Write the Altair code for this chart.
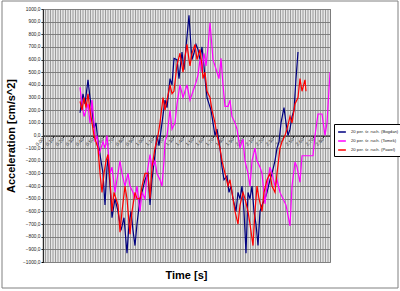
import altair as alt
import pandas as pd

# --- data (time [s], moving-average acceleration [cm/s^2]) ---
bogdan = [(0.37,180),(0.40,330),(0.42,250),(0.45,440),(0.47,300),(0.49,200),(0.51,60),(0.53,100),
          (0.55,-50),(0.57,-150),(0.60,-300),(0.62,-550),(0.64,-250),(0.65,-180),(0.67,-400),(0.69,-650),
          (0.72,-500),(0.75,-600),(0.78,-750),(0.81,-650),(0.84,-930),(0.86,-700),(0.88,-600),(0.90,-750),
          (0.92,-870),(0.94,-700),(0.97,-500),(0.99,-450),(1.02,-350),(1.05,-300),(1.07,-550),(1.09,-350),
          (1.12,-150),(1.14,0),(1.16,-80),(1.19,100),(1.22,280),(1.24,220),(1.27,450),(1.29,400),
          (1.31,610),(1.34,600),(1.36,450),(1.39,660),(1.41,520),(1.43,700),(1.46,950),(1.48,700),
          (1.49,600),(1.51,650),(1.53,720),(1.55,680),(1.57,600),(1.59,700),(1.61,550),(1.62,450),
          (1.64,300),(1.66,250),(1.68,200),(1.70,100),(1.72,0),(1.74,50),(1.77,-100),(1.79,-250),
          (1.81,-350),(1.84,-320),(1.86,-450),(1.88,-400),(1.90,-500),(1.93,-600),(1.95,-450),(1.97,-500),
          (1.99,-400),(2.01,-600),(2.03,-930),(2.05,-450),(2.07,-500),(2.09,-400),(2.11,-600),(2.13,-700),
          (2.15,-870),(2.17,-600),(2.19,-550),(2.22,-500),(2.24,-450),(2.27,-350),(2.29,-300),(2.32,-200),
          (2.34,-100),(2.36,-50),(2.38,100),(2.41,220),(2.43,100),(2.45,0),(2.47,50),(2.49,150),
          (2.51,200),(2.53,450),(2.55,660)]

tomek = [(0.37,380),(0.39,250),(0.41,150),(0.43,200),(0.45,250),(0.47,100),(0.49,280),(0.51,100),
         (0.52,-50),(0.54,0),(0.56,-150),(0.58,-100),(0.60,-50),(0.62,-100),(0.64,0),(0.65,-100),
         (0.67,-300),(0.69,-250),(0.72,-450),(0.74,-350),(0.77,-200),(0.79,-300),(0.82,-400),(0.85,-300),
         (0.87,-400),(0.90,-450),(0.92,-500),(0.94,-400),(0.97,-600),(0.99,-450),(1.02,-500),(1.04,-300),
         (1.07,-150),(1.09,-250),(1.12,-200),(1.14,-300),(1.17,-350),(1.19,-400),(1.21,-200),(1.22,-50),
         (1.24,0),(1.27,200),(1.29,50),(1.32,100),(1.34,250),(1.37,400),(1.40,300),(1.42,350),
         (1.44,400),(1.47,280),(1.50,350),(1.53,420),(1.55,480),(1.57,600),(1.59,500),(1.61,650),
         (1.63,550),(1.65,700),(1.67,890),(1.69,700),(1.70,600),(1.72,550),(1.74,500),(1.76,450),
         (1.78,610),(1.80,400),(1.82,230),(1.85,230),(1.87,280),(1.89,150),(1.92,100),(1.94,50),
         (1.97,-100),(1.99,-50),(2.00,-30),(2.02,-200),(2.05,-300),(2.07,-400),(2.09,-200),(2.12,-100),
         (2.14,-200),(2.17,-250),(2.19,-300),(2.22,-540),(2.24,-400),(2.27,-250),(2.29,-300),(2.32,-400),
         (2.34,-350),(2.37,-450),(2.40,-500),(2.43,-550),(2.47,-715),(2.49,-400),(2.52,-210),(2.54,-250),
         (2.57,-370),(2.59,-160),(2.70,-160),(2.72,0),(2.75,170),(2.79,170),(2.82,0),(2.84,100),
         (2.87,500)]

pawel = [(0.37,270),(0.39,200),(0.41,300),(0.43,220),(0.45,330),(0.47,200),(0.49,100),(0.51,0),
         (0.53,-50),(0.55,-100),(0.57,-300),(0.59,-450),(0.61,-300),(0.63,-200),(0.65,-150),(0.67,-350),
         (0.69,-600),(0.71,-450),(0.73,-500),(0.75,-550),(0.77,-765),(0.79,-600),(0.82,-400),(0.84,-500),
         (0.87,-780),(0.89,-600),(0.92,-450),(0.94,-500),(0.97,-500),(0.99,-400),(1.02,-300),(1.05,-300),
         (1.07,-500),(1.09,-250),(1.12,-100),(1.15,0),(1.17,100),(1.20,300),(1.22,200),(1.25,320),
         (1.27,400),(1.29,330),(1.31,350),(1.34,560),(1.37,650),(1.39,550),(1.40,500),(1.42,620),
         (1.44,720),(1.46,600),(1.47,550),(1.49,650),(1.52,720),(1.54,600),(1.57,680),(1.59,550),
         (1.60,450),(1.62,500),(1.64,350),(1.67,300),(1.69,200),(1.72,100),(1.74,0),(1.77,-100),
         (1.79,-200),(1.82,-300),(1.85,-400),(1.87,-350),(1.90,-500),(1.92,-600),(1.95,-700),(1.97,-550),
         (2.00,-450),(2.02,-500),(2.05,-600),(2.07,-700),(2.10,-870),(2.12,-600),(2.14,-400),(2.16,-500),
         (2.19,-600),(2.21,-450),(2.24,-350),(2.27,-300),(2.29,-400),(2.32,-450),(2.34,-300),(2.37,-100),
         (2.39,-50),(2.42,0),(2.44,50),(2.47,150),(2.49,100),(2.52,250),(2.55,300),(2.57,450),
         (2.59,350),(2.62,440),(2.63,350)]

series_names = ["20 per. śr. ruch. (Bogdan)", "20 per. śr. ruch. (Tomek)", "20 per. śr. ruch. (Pawel)"]
series_colors = ["#000080", "#ff00ff", "#ff0000"]
x_label_values = [round(i * 0.1, 1) for i in range(29)]
y_values = list(range(-1000, 1001, 100))
grid_t = [round(i * 0.025, 3) for i in range(116)]

rows = []
for name, pts in zip(series_names, [bogdan, tomek, pawel]):
    for i, (t, v) in enumerate(pts):
        rows.append({"t": t, "a": v, "s": name, "o": i})
df = pd.DataFrame(rows)

W, H = 287, 253
xscale = alt.Scale(domain=[0, 2.87], nice=False, zero=False)
yscale = alt.Scale(domain=[-1000, 1000], nice=False)

xaxis = alt.Axis(values=x_label_values, offset=-H / 2, grid=False, title=None,
                 labelExpr="replace(format(datum.value, '.2f'), '.', ',')",
                 labelAngle=-45, labelAlign="right", labelBaseline="middle",
                 labelFontSize=4.8, labelColor="#222222", labelPadding=1,
                 tickSize=2, tickColor="black", domainColor="black",
                 labelFlush=False, labelOverlap=False)

frame = alt.Chart(pd.DataFrame({"k": [0]})).mark_rect(
    fill=None, stroke="#808080", strokeWidth=1
).encode(x=alt.value(-41), x2=alt.value(355), y=alt.value(-8), y2=alt.value(279))

xtitle = alt.Chart(pd.DataFrame({"k": [0]})).mark_text(
    text="Time [s]", fontSize=11, fontWeight="bold", font="Liberation Sans",
    color="black", baseline="middle", align="center"
).encode(x=alt.value(W / 2), y=alt.value(267))

vgrid = alt.Chart(pd.DataFrame({"g": grid_t})).mark_rule(
    color="#7a7a7a", strokeWidth=0.7
).encode(x=alt.X("g:Q", scale=xscale, axis=xaxis))

lines = alt.Chart(df).mark_line(strokeWidth=1.2, clip=True).encode(
    x=alt.X("t:Q", scale=xscale, axis=xaxis),
    y=alt.Y("a:Q", scale=yscale,
            title="Acceleration [cm/s^2]",
            axis=alt.Axis(values=y_values, grid=True, gridColor="#808080", gridWidth=1,
                          labelExpr="replace(format(datum.value, '.1f'), '.', ',')",
                          labelFontSize=4.8, labelColor="#222222", labelPadding=1,
                          tickSize=2, tickColor="black", domainColor="black",
                          titleFontSize=11, titleFontWeight="bold", titleFont="Liberation Sans",
                          titlePadding=6, titleColor="black")),
    color=alt.Color("s:N", sort=series_names,
                    scale=alt.Scale(domain=series_names, range=series_colors),
                    legend=alt.Legend(title=None, orient="none", legendX=291, legendY=115,
                                      symbolType="stroke", symbolSize=60, symbolStrokeWidth=1.5,
                                      labelFontSize=4.2, labelColor="#222222", labelLimit=100,
                                      strokeColor="black", padding=3, rowPadding=1,
                                      fillColor="white")),
    order="o:Q",
    detail="s:N",
)

chart = alt.layer(vgrid, frame, lines, xtitle).properties(
    width=W, height=H,
    autosize=alt.AutoSizeParams(type="none"),
    padding={"left": 43, "top": 9, "right": 70, "bottom": 29},
    background="white",
).configure_view(fill="#e6e6e6", stroke="#808080", strokeWidth=1)

chart.save("out.html", embed_options={"renderer": "svg", "actions": False})
